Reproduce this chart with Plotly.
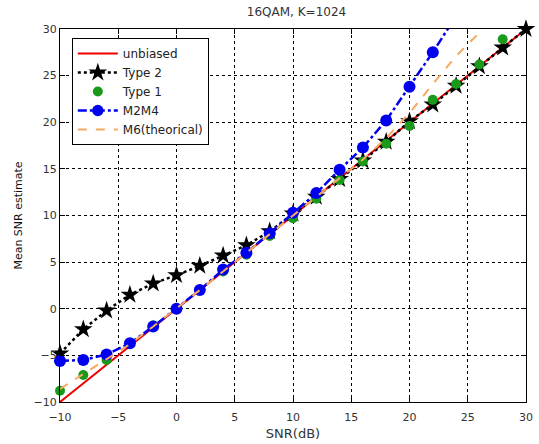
import numpy as np
import plotly.graph_objects as go

snr = [-10, -8, -6, -4, -2, 0, 2, 4, 6, 8, 10, 12, 14, 16, 18, 20, 22, 24, 26, 28, 30]
unbiased_x = [-10, 30]
unbiased_y = [-10, 30]
type2 = [-4.8, -2.2, -0.2, 1.5, 2.7, 3.6, 4.6, 5.7, 6.8, 8.3, 10.2, 12.0, 13.9, 15.9, 17.9, 20.1, 21.9, 23.9, 26.0, 28.0, 30.0]
type1_x = [-10, -8, -6, -4, -2, 0, 2, 4, 6, 8, 10, 12, 14, 16, 18, 20, 22, 24, 26, 28]
type1 = [-8.8, -7.1, -5.5, -3.7, -1.8, 0.0, 2.0, 4.0, 5.8, 7.8, 9.7, 11.8, 13.8, 15.8, 17.7, 19.6, 22.4, 24.1, 26.2, 28.9]
m2m4_x = [-10, -8, -6, -4, -2, 0, 2, 4, 6, 8, 10, 12, 14, 16, 18, 20, 22, 24]
m2m4 = [-5.6, -5.5, -4.9, -3.7, -1.9, 0.0, 2.0, 4.2, 6.0, 8.1, 10.3, 12.4, 14.9, 17.3, 20.2, 23.8, 27.5, 31.4]
m6_x = [-10, -8, -6, -4, -2, 0, 2, 4, 6, 8, 10, 12, 14, 16, 18, 20, 22, 24, 26, 28]
m6 = [-8.6, -7.0, -5.4, -3.8, -1.9, 0.0, 2.0, 4.0, 6.0, 8.0, 10.0, 12.0, 14.0, 16.0, 18.3, 21.0, 24.1, 27.1, 29.6, 32.6]
ticks = [-10, -5, 0, 5, 10, 15, 20, 25, 30]

FONT = "DejaVu Sans, sans-serif"
fig = go.Figure()
fig.add_trace(go.Scatter(x=unbiased_x, y=unbiased_y, mode="lines", name="unbiased",
                         line=dict(color="#ee0000", width=2)))
fig.add_trace(go.Scatter(x=snr, y=type2, mode="lines+markers", name="Type 2",
                         line=dict(color="black", width=2.5, dash="dot"),
                         marker=dict(symbol="star", size=14, color="black", line=dict(width=0)),
                         cliponaxis=False))
fig.add_trace(go.Scatter(x=type1_x, y=type1, mode="markers", name="Type 1",
                         marker=dict(symbol="circle", size=10, color="#1a9a1a", line=dict(width=0)),
                         cliponaxis=False))
m2m4_arr = np.array(m2m4)
fig.add_trace(go.Scatter(x=m2m4_x, y=m2m4, mode="lines+markers", name="M2M4",
                         line=dict(color="#0000ee", width=2.5, dash="dashdot"),
                         marker=dict(symbol="circle", size=np.where(m2m4_arr <= 30, 12, 0).tolist(),
                                     color="#0000ee", opacity=1, line=dict(width=0)),
                         cliponaxis=False))
fig.add_trace(go.Scatter(x=m6_x, y=m6, mode="lines", name="M6(theorical)",
                         line=dict(color="#f8a860", width=2, dash="dash")))

axis_common = dict(range=[-10, 30], tickvals=ticks, ticks="inside", ticklen=5, tickcolor="black",
                   showline=True, linecolor="black", linewidth=1, mirror="ticks",
                   showgrid=True, gridcolor="black", gridwidth=1, griddash="dot",
                   zeroline=False, ticklabeloverflow="allow",
                   tickfont=dict(family=FONT, size=11, color="#333"))
fig.update_xaxes(**axis_common, ticklabelstandoff=5,
                 title=dict(text="SNR(dB)", font=dict(family=FONT, size=13, color="#333"), standoff=5))
fig.update_yaxes(**axis_common,
                 title=dict(text="Mean SNR estimate", font=dict(family=FONT, size=11, color="#111"), standoff=8))

fig.update_layout(
    width=539, height=444,
    margin=dict(l=60, r=6, t=29, b=42),
    paper_bgcolor="white", plot_bgcolor="white",
    title=dict(text="16QAM, K=1024", x=(296.5 / 539), xanchor="center", y=1 - 12 / 444, yanchor="middle",
               font=dict(family=FONT, size=12, color="#333")),
    legend=dict(x=(72 - 60) / 473, y=(402 - 38) / 373, xanchor="left", yanchor="top",
                bgcolor="white", bordercolor="black", borderwidth=1, itemwidth=40,
                font=dict(family=FONT, size=12, color="#222"), tracegroupgap=0),
    showlegend=True,
)
fig.write_html("out.html")
